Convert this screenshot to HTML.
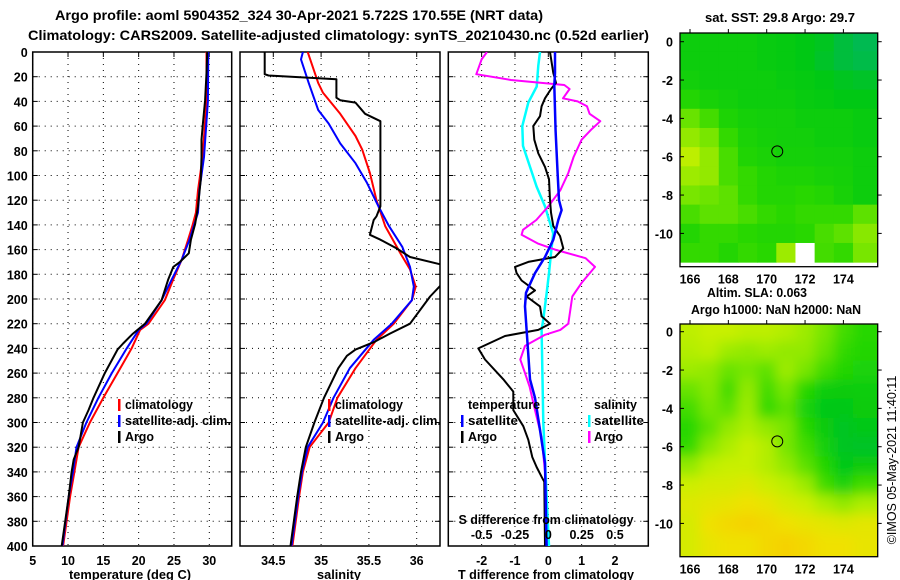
<!DOCTYPE html>
<html><head><meta charset="utf-8"><style>
body{margin:0;background:#fff;}
svg{display:block;font-family:"Liberation Sans",sans-serif;font-weight:bold;}
</style></head><body>
<svg id="c" width="900" height="580" viewBox="0 0 900 580">
<text x="55" y="20" font-size="14" textLength="488" lengthAdjust="spacingAndGlyphs">Argo profile: aoml 5904352_324 30-Apr-2021 5.722S 170.55E (NRT data)</text>
<text x="28" y="40" font-size="14" textLength="621" lengthAdjust="spacingAndGlyphs">Climatology: CARS2009. Satellite-adjusted climatology: synTS_20210430.nc (0.52d earlier)</text>
</svg>
<script>
// ---- data ----
const depthTicks=[0,20,40,60,80,100,120,140,160,180,200,220,240,260,280,300,320,340,360,380,400];
const tempTicks=[5,10,15,20,25,30];
const salTicks=[34.5,35,35.5,36];
const salTickLabels=['34.5','35','35.5','36'];
const tdiffTicks=[-2,-1,0,1,2];
const sdiffTicks=[-0.5,-0.25,0,0.25,0.5];
const sdiffTickLabels=['-0.5','-0.25','0','0.25','0.5'];

const tClimD=[0,40,85,112,130,141,152,168,184,201,220,225,240,260,280,300,320,340,360,380,400];
const tClimV=[29.6,29.6,29.05,28.4,28.1,27.6,27.0,26.1,24.9,23.7,21.4,20.2,19.0,17.0,15.0,13.1,11.5,10.9,10.3,9.8,9.3];
const tSatD=[0,40,85,112,130,141,152,168,184,201,220,225,240,260,280,300,320,340,360,400];
const tSatV=[29.86,29.8,29.25,28.6,28.4,27.8,27.2,26.1,24.7,23.25,21.1,20.0,18.3,16.2,14.3,12.6,11.2,10.7,10.1,9.2];
const tArgoD=[0,17,39,58,71,85,103,125,139,152,163,170,174,184,201,220,228,236,241,260,280,290,300,320,330,340,360,380,400];
const tArgoV=[29.7,29.6,29.4,29.1,28.9,28.9,28.8,28.4,28.0,27.4,27.1,25.85,24.9,24.2,23.25,20.9,19.2,17.8,17.0,15.2,13.6,12.9,12.1,11.5,10.8,10.5,10.1,9.6,9.1];

const sClimD=[0,25,33,50,68,79,98,120,141,163,176,190,201,220,233,256,280,300,320,340,360,400];
const sClimV=[34.86,34.97,35.02,35.2,35.36,35.43,35.51,35.58,35.67,35.83,35.93,35.99,35.95,35.76,35.58,35.36,35.17,35.08,34.88,34.81,34.77,34.7];
const sSatD=[0,6,25,47,58,74,90,106,125,141,158,174,190,201,220,233,256,280,300,320,340,360,400];
const sSatV=[34.81,34.79,34.87,34.97,35.08,35.2,35.36,35.48,35.6,35.71,35.85,35.93,35.97,35.95,35.74,35.55,35.3,35.13,35.02,34.86,34.8,34.76,34.69];
const sArgoD=[0,18,19,22,25,37,39,41,50,56,60,125,133,136,148,152,159,166,172,180,189,198,220,228,235,241,246,256,280,300,320,340,360,400];
const sArgoV=[34.41,34.41,34.45,35.16,35.16,35.16,35.2,35.36,35.46,35.62,35.62,35.62,35.58,35.55,35.51,35.62,35.79,35.93,36.25,36.5,36.25,36.14,35.93,35.72,35.55,35.36,35.27,35.18,35.03,34.93,34.84,34.79,34.75,34.68];

const dSatTD=[0,17,27,64,98,120,128,136,152,166,179,195,206,225,265,280,306,333,400];
const dSatTV=[0.2,0.2,0.18,0.22,0.28,0.32,0.4,0.3,0.15,-0.1,-0.4,-0.67,-0.7,-0.65,-0.55,-0.4,-0.25,-0.1,-0.05];
const dArgoTD=[0,17,25,30,37.5,44,52,60,71,82,93,103,120,130,141,149,159,166,170,174,179,185,193,198,206,214,220,225,230,240,249,265,275,290,303,314,328,336,344,348,400];
const dArgoTV=[0.05,0.15,0.23,0.08,-0.1,-0.2,-0.25,-0.45,-0.42,-0.3,-0.1,0.02,0.05,0.08,0.15,0.35,0.45,0.2,-0.6,-1.0,-0.95,-0.8,-0.4,-0.65,-0.25,-0.2,0.05,-0.3,-1.3,-2.1,-1.9,-1.35,-1.05,-1.05,-0.75,-0.6,-0.48,-0.35,-0.2,-0.12,-0.1];
const dSatSD=[0,11,28,41,60,76,92,109,125,147,163,179,195,217,225,300,360,400];
const dSatSV=[-0.062,-0.075,-0.087,-0.15,-0.195,-0.19,-0.14,-0.088,-0.025,0.037,0.02,0.005,-0.012,-0.038,-0.05,-0.0375,-0.0125,0.005];
const dArgoSD=[0,6,18,22.7,26.7,30,37.5,40,44,50,56,63,71,85,98,112,125,136,144,148,155,160,167,174,187,198,220,225,229,238,249,260,271,290,312,340,400];
const dArgoSV=[-0.46,-0.5,-0.54,-0.28,0.12,0.16,0.11,0.22,0.29,0.31,0.39,0.32,0.25,0.19,0.15,0.09,0,-0.09,-0.19,-0.2,-0.08,0.05,0.28,0.35,0.25,0.18,0.15,0.09,-0.025,-0.175,-0.21,-0.175,-0.14,-0.1,-0.05,-0.025,-0.025];

const lonTicks=[166,168,170,172,174];
const latTicks=[0,-2,-4,-6,-8,-10];
const sstGrid=[
[.3,.3,.3,.3,.28,.27,.25,.22,.15,.1],
[.3,.3,.3,.3,.28,.27,.25,.2,.15,.12],
[.32,.3,.3,.3,.3,.28,.27,.25,.22,.2],
[.38,.34,.32,.3,.3,.3,.28,.27,.25,.25],
[.52,.45,.36,.33,.32,.32,.3,.3,.3,.28],
[.6,.55,.42,.35,.33,.32,.32,.3,.3,.28],
[.68,.6,.46,.37,.35,.33,.33,.32,.32,.3],
[.62,.6,.46,.42,.38,.36,.36,.34,.33,.3],
[.55,.53,.5,.42,.38,.38,.4,.38,.34,.3],
[.46,.5,.5,.46,.42,.4,.42,.42,.42,.5],
[.38,.42,.42,.4,.38,.38,.4,.46,.5,.58],
[.42,.42,.38,.42,.4,.62,-1,.45,.42,.55]];
const slaGrid=[
[.68,.7,.7,.68,.68,.66,.62,.55,.45,.4],
[.66,.68,.62,.6,.62,.6,.6,.52,.42,.38],
[.62,.6,.52,.55,.5,.62,.55,.45,.38,.35],
[.52,.58,.45,.6,.45,.55,.4,.3,.28,.3],
[.45,.55,.5,.62,.42,.5,.35,.25,.25,.28],
[.4,.5,.6,.65,.6,.55,.4,.28,.22,.25],
[.42,.58,.65,.7,.66,.55,.45,.32,.22,.2],
[.6,.68,.7,.7,.66,.6,.5,.38,.25,.28],
[.72,.75,.75,.78,.72,.68,.62,.45,.35,.45],
[.78,.8,.82,.85,.82,.76,.72,.65,.6,.65],
[.75,.85,.88,.9,.88,.85,.82,.8,.78,.8],
[.75,.82,.85,.85,.88,.9,.88,.85,.85,.82]];
const argoLon=170.55, argoLat=-5.722;

// ---- drawing ----
const svg=document.getElementById('c');
const NS='http://www.w3.org/2000/svg';
function mk(tag,attrs,parent){const e=document.createElementNS(NS,tag);for(const k in attrs)e.setAttribute(k,attrs[k]);(parent||svg).appendChild(e);return e;}
const yTop=52, yBot=546;
const yD=d=>yTop+(d/400)*(yBot-yTop);
function lin(d0,d1,p0,p1){return v=>p0+(v-d0)/(d1-d0)*(p1-p0);}

function panel(name,x0,x1,xs,ticks,labels,showY){
  const g=mk('g',{});
  
  
  depthTicks.forEach(d=>{
    if(d>0&&d<400){const l=mk('line',{x1:x0,x2:x1,y1:yD(d),y2:yD(d),stroke:'#000','stroke-width':1,'stroke-dasharray':'1 5'},g);
    }
    const t=mk('line',{x1:x0,x2:x0+5,y1:yD(d),y2:yD(d),stroke:'#000'},g);
    
    const t2=mk('line',{x1:x1-5,x2:x1,y1:yD(d),y2:yD(d),stroke:'#000'},g);
    
    if(showY){const tx=mk('text',{x:x0-5,y:yD(d)+5,'font-size':12.5,'text-anchor':'end'},g);tx.textContent=d;
      }
  });
  ticks.forEach((v,i)=>{
    const X=xs(v);
    const l=mk('line',{x1:X,x2:X,y1:yTop,y2:yBot,stroke:'#000','stroke-width':1,'stroke-dasharray':'1 5'},g);
    
    const t=mk('line',{x1:X,x2:X,y1:yTop,y2:yTop+5,stroke:'#000'},g);
    
    const tx=mk('text',{x:X,y:565,'font-size':12.5,'text-anchor':'middle'},g);tx.textContent=labels[i];
    
  });
  const r=mk('rect',{x:x0,y:yTop,width:x1-x0,height:yBot-yTop,fill:'none',stroke:'#000','stroke-width':1.5},g);
  
  return g;
}
function series(name,D,V,xs,color,w,clip){
  const pts=D.map((d,i)=>xs(V[i]).toFixed(1)+','+yD(d).toFixed(1)).join(' ');
  const p=mk('polyline',{points:pts,fill:'none',stroke:color,'stroke-width':w,'clip-path':'url(#'+clip+')','stroke-linejoin':'round'});
  
  
}
function clip(id,x0,x1){const defs=mk('defs',{});const c=mk('clipPath',{id:id},defs);mk('rect',{x:x0,y:yTop,width:x1-x0,height:yBot-yTop},c);}
function txt(name,s,x,y,size,anchor,parent,len){const a={x:x,y:y,'font-size':size,'text-anchor':anchor||'start'};
  if(len){a.textLength=len;a.lengthAdjust='spacingAndGlyphs';}
  const t=mk('text',a,parent);t.textContent=s;
  return t;}
function bar(name,x,y,color){const r=mk('rect',{x:x,y:y-6,width:2.5,height:12,fill:color});}

// Temperature panel
const xT=lin(5,30,32.7,209.3);
panel('temperature-panel',32.7,231.7,xT,tempTicks,tempTicks.map(String),true);
clip('cT',32.7,231.7);
series('temp-climatology-line',tClimD,tClimV,xT,'#f00',2,'cT');
series('temp-satellite-line',tSatD,tSatV,xT,'#00f',2,'cT');
series('temp-argo-line',tArgoD,tArgoV,xT,'#000',2,'cT');
txt('x-axis-title-temperature','temperature (deg C)',130,579,12.5,'middle',null,122);
bar('legend-swatch-climatology',118,405,'#f00');txt('legend-climatology','climatology',125,409,12.5,'start',null,68);
bar('legend-swatch-satellite',118,421,'#00f');txt('legend-satellite','satellite-adj. clim.',125,425,12.5,'start',null,106);
bar('legend-swatch-argo',118,437,'#000');txt('legend-argo','Argo',125,441,12.5,'start',null,29);

// Salinity panel
const xS=lin(34.5,36,273.3,416.7);
panel('salinity-panel',240,440,xS,salTicks,salTickLabels,false);
clip('cS',240,440);
series('sal-climatology-line',sClimD,sClimV,xS,'#f00',2,'cS');
series('sal-satellite-line',sSatD,sSatV,xS,'#00f',2,'cS');
series('sal-argo-line',sArgoD,sArgoV,xS,'#000',2,'cS');
txt('x-axis-title-salinity','salinity',339,579,12.5,'middle',null,44);
bar('legend-swatch-climatology-s',328,405,'#f00');txt('legend-climatology-s','climatology',335,409,12.5,'start',null,68);
bar('legend-swatch-satellite-s',328,421,'#00f');txt('legend-satellite-s','satellite-adj. clim.',335,425,12.5,'start',null,106);
bar('legend-swatch-argo-s',328,437,'#000');txt('legend-argo-s','Argo',335,441,12.5,'start',null,29);

// Difference panel
const xDT=lin(-3,3,448.3,648.3);
const xDS=v=>xDT(v*4);
panel('difference-panel',448.3,648.3,xDT,tdiffTicks,tdiffTicks.map(String),false);
clip('cD',448.3,648.3);
const zl=mk('line',{x1:xDT(0),x2:xDT(0),y1:yTop,y2:yBot,stroke:'#000','stroke-width':1,'stroke-dasharray':'1 5'});

series('sdiff-satellite-line',dSatSD,dSatSV,xDS,'#0ff',2.5,'cD');
series('sdiff-argo-line',dArgoSD,dArgoSV,xDS,'#f0f',2,'cD');
series('tdiff-argo-line',dArgoTD,dArgoTV,xDT,'#000',2,'cD');
series('tdiff-satellite-line',dSatTD,dSatTV,xDT,'#00f',2.5,'cD');
txt('x-axis-title-tdiff','T difference from climatology',546,579,12.5,'middle',null,176);
txt('s-axis-title','S difference from climatology',546,524,12.5,'middle',null,175);
sdiffTicks.forEach((v,i)=>txt('s-tick-label',sdiffTickLabels[i],xDS(v),539,12.5,'middle'));
txt('legend-temperature-heading','temperature',468,409,12.5,'start',null,72);
txt('legend-salinity-heading','salinity',594,409,12.5,'start',null,43);
bar('legend-swatch-tsat',461,421,'#00f');txt('legend-tsat','satellite',468,425,12.5,'start',null,50);
bar('legend-swatch-targo',461,437,'#000');txt('legend-targo','Argo',468,441,12.5,'start',null,29);
bar('legend-swatch-ssat',588,421,'#0ff');txt('legend-ssat','satellite',594,425,12.5,'start',null,50);
bar('legend-swatch-sargo',588,437,'#f0f');txt('legend-sargo','Argo',594,441,12.5,'start',null,29);

// Maps
const stops=[[0,[0,176,122]],[0.25,[0,200,20]],[0.4,[40,215,0]],[0.55,[120,230,0]],[0.7,[200,240,0]],[0.85,[240,225,0]],[1,[255,180,0]]];
function cmap(v){if(v<0)return '#fff';for(let i=1;i<stops.length;i++){if(v<=stops[i][0]){const a=stops[i-1],b=stops[i],t=(v-a[0])/(b[0]-a[0]);
  return 'rgb('+a[1].map((c,k)=>Math.round(c+(b[1][k]-c)*t)).join(',')+')';}}return 'rgb(255,180,0)';}
const mx0=680,mx1=877.7;
const lonX=lin(166,174,690,843.4);
function map(name,grid,yt,yb,lat0y,blur,id){
  const latY=lin(0,-10,lat0y,lat0y+191.7);
  const g=mk('g',{});
  
  
  const defs=mk('defs',{},g);
  const cp=mk('clipPath',{id:id},defs);mk('rect',{x:mx0,y:yt,width:mx1-mx0,height:yb-yt},cp);
  if(blur){const f=mk('filter',{id:id+'b',x:'-10%',y:'-10%',width:'120%',height:'120%'},defs);mk('feGaussianBlur',{stdDeviation:6},f);}
  const cg=mk('g',{'clip-path':'url(#'+id+')'},g);
  const inner=mk('g',blur?{filter:'url(#'+id+'b)'}:{},cg);
  const R=grid.length,C=grid[0].length,pad=blur?2:0;
  for(let r=-pad;r<R+pad;r++)for(let c=-pad;c<C+1+pad;c++){
    const v=grid[Math.min(R-1,Math.max(0,r))][Math.min(C-1,Math.max(0,c))];
    const x=lonX(165.5+c),y=latY(0.5-r);
    const cell=mk('rect',{x:x,y:y,width:lonX(166.5+c)-x+0.5,height:latY(-0.5-r)-y+0.5,fill:cmap(v)},inner);
    
    
  }
  latTicks.forEach(v=>{txt('lat-tick-label',String(v),673,latY(v)+5,12.5,'end',g);
    mk('line',{x1:mx0,x2:mx0+4,y1:latY(v),y2:latY(v),stroke:'#000'},g);mk('line',{x1:mx1,x2:mx1+4,y1:latY(v),y2:latY(v),stroke:'#000'},g);});
  lonTicks.forEach(v=>{txt('lon-tick-label',String(v),lonX(v),yb+17,12.5,'middle',g);
    mk('line',{x1:lonX(v),x2:lonX(v),y1:yt-4,y2:yt,stroke:'#000'},g);});
  const circ=mk('circle',{cx:lonX(argoLon),cy:latY(argoLat),r:5.5,fill:'none',stroke:'#000','stroke-width':1},g);
  
  const fr=mk('rect',{x:mx0,y:yt,width:mx1-mx0,height:yb-yt,fill:'none',stroke:'#000','stroke-width':1.3},g);
  
}
map('sst-map',sstGrid,33,266.7,41.7,false,'m1');
map('sla-map',slaGrid,324,556.7,331.7,true,'m2');
txt('sst-map-title','sat. SST: 29.8 Argo: 29.7',780,22,12.5,'middle',null,150);
txt('sla-label','Altim. SLA: 0.063',757,297,12.5,'middle',null,100);
txt('sla-map-title','Argo h1000: NaN h2000: NaN',776,314,12.5,'middle',null,170);
const cr=txt('copyright-stamp','©IMOS 05-May-2021 11:40:11',0,0,12.5,'middle');
cr.setAttribute('font-weight','normal');
cr.setAttribute('transform','translate(896,460) rotate(-90)');
</script>
</body></html>
